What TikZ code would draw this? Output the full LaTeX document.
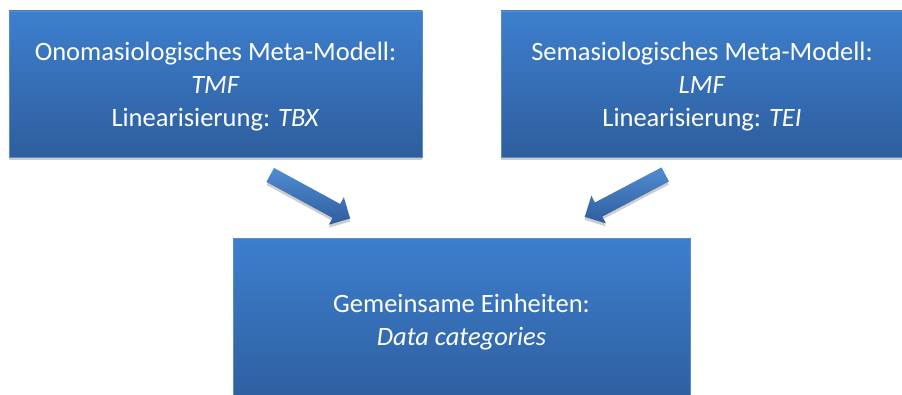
\documentclass[tikz,border=0pt]{standalone}
\usepackage{fontspec}
\setmainfont{Carlito}
\usetikzlibrary{shapes.arrows,shadows}
\definecolor{boxtop}{RGB}{61,127,205}
\definecolor{boxbot}{RGB}{46,94,158}
\definecolor{boxedge}{RGB}{90,140,200}
\definecolor{shadowgray}{RGB}{205,205,205}
\tikzset{
  bluebox/.style={rectangle, draw=boxedge, line width=0.8pt, top color=boxtop, bottom color=boxbot,
    inner sep=0pt,
    drop shadow={shadow xshift=0pt, shadow yshift=-3.5pt, fill=shadowgray, opacity=1}},
  boxtext/.style={text=white, align=center, font=\fontsize{26.5}{33}\selectfont, inner sep=0pt},
  blockarrow/.style={single arrow, draw=none, top color=boxtop!90!white, bottom color=boxbot,
    minimum width=31pt, single arrow head extend=7.75pt, inner xsep=0pt, inner ysep=7.75pt,
    minimum height=91pt,
    drop shadow={shadow xshift=0pt, shadow yshift=-3pt, fill=shadowgray, opacity=1}}
}
\begin{document}
\begin{tikzpicture}[x=1pt,y=1pt]
\useasboundingbox (0,0) rectangle (902,394);
\fill[white] (0,0) rectangle (902,394);
\node[bluebox, minimum width=413pt, minimum height=146pt] (onom) at (215.5,310) {};
\node[boxtext] (onomtext) at ([yshift=-3pt]onom.center)
  {Onomasiologisches Meta-Modell:\\ \textit{TMF}\\ Linearisierung: \textit{TBX}};
\node[bluebox, minimum width=402pt, minimum height=146pt] (sema) at (702,310) {};
\node[boxtext] (sematext) at ([xshift=0pt,yshift=-3pt]sema.center)
  {Semasiologisches Meta-Modell:\\ \textit{LMF}\\ Linearisierung: \textit{TEI}};
\node[bluebox, minimum width=457pt, minimum height=168pt] (gem) at (461.5,72) {};
\node[boxtext] (gemtext) at ([yshift=0pt]gem.center)
  {Gemeinsame Einheiten:\\ \textit{Data categories}};
\node[blockarrow, rotate=-28.6] (arrL) at (306.7,199.2) {};
\node[blockarrow, rotate=207.8] (arrR) at (628.5,200.2) {};
\end{tikzpicture}
\end{document}
